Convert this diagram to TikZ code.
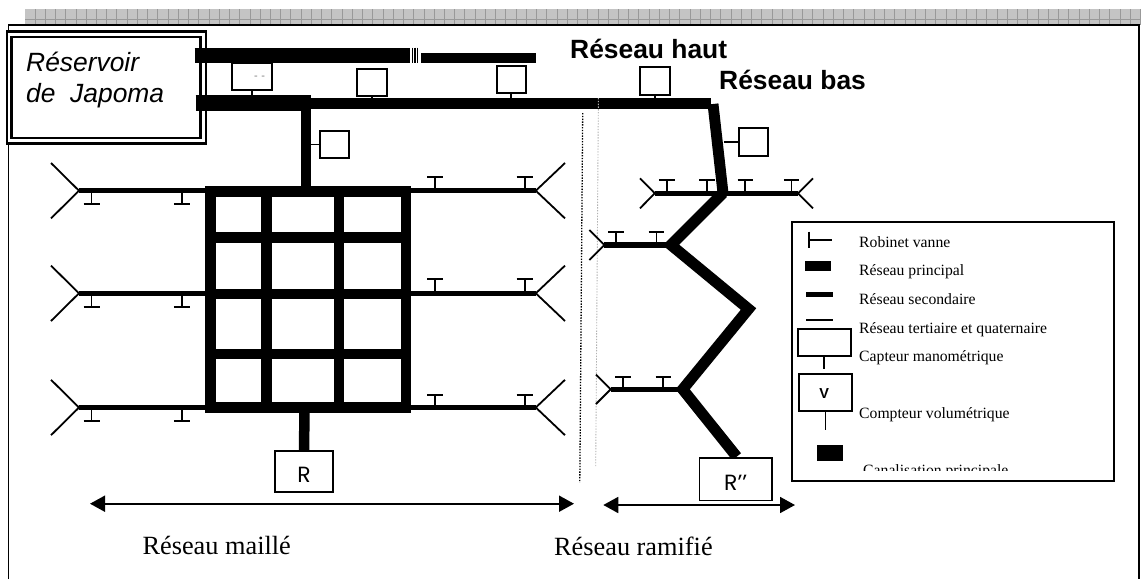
\documentclass[tikz,border=0pt]{standalone}
\usepackage{fontspec}
\setmainfont{Liberation Serif}
\newfontfamily\arialf{Liberation Sans}
\newfontfamily\wideR{Poppins}
\usetikzlibrary{arrows.meta}
\definecolor{band}{gray}{0.77}
\definecolor{bandline}{gray}{0.60}
\tikzset{
  sensor/.style={draw,line width=2pt,fill=white,inner sep=0,minimum width=#1},
  sensor/.default=29.5pt,
  stemline/.style={line width=1.8pt},
  mainpipe/.style={line width=10.5pt,line cap=butt,line join=miter},
  secpipe/.style={line width=5.3pt,line cap=butt},
  forkline/.style={line width=1.8pt},
  valveline/.style={line width=1.8pt},
  spanarrow/.style={line width=1.8pt,{Triangle[length=15pt,width=16pt]}-{Triangle[length=15pt,width=16pt]}},
  lbl/.style={inner sep=0,anchor=base west},
  titlelbl/.style={lbl,font=\arialf\bfseries\fontsize{26.4}{30}\selectfont},
  reslbl/.style={lbl,font=\arialf\itshape\fontsize{26.4}{30}\selectfont},
  zonelbl/.style={lbl,font=\fontsize{26.3}{30}\selectfont},
  leglbl/.style={lbl,font=\fontsize{15.7}{18}\selectfont},
  rlbl/.style={inner sep=0,font=\wideR\fontsize{22}{24}\selectfont},
}
% fork: tip x, tip y, end x, half height
\newcommand{\forkat}[4]{\draw[forkline] (#3,#2-#4) -- (#1,#2) -- (#3,#2+#4);}
% valve: stem x, pipe y, bar y, half bar
\newcommand{\valveat}[4]{\draw[valveline] (#1,#2) -- (#1,#3) (#1-#4,#3) -- (#1+#4,#3);}
\begin{document}
\begin{tikzpicture}[x=1pt,y=-1pt]
\useasboundingbox (0,0) rectangle (1141,579);
% top band
\fill[band] (25,9) rectangle (1141,25);
\foreach \i in {0,...,108}{\draw[bandline,line width=0.8pt] ({35+\i*10.235},9) -- ({35+\i*10.235},25);}
\draw[bandline,line width=0.8pt] (25,19) -- (1141,19);
% frame
\draw[line width=1.8pt] (8.5,579) -- (8.5,25) -- (1139,25) -- (1139,579);
% reservoir
\node[draw,line width=2.4pt,fill=white,minimum width=199pt,minimum height=112pt,inner sep=0] (resA) at (106.3,87.3) {};
\node[draw,line width=2.4pt,minimum width=189pt,minimum height=101pt,inner sep=0] (resB) at (106,87.2) {};
\node[reslbl] (t1) at (26,71.7) {Réservoir};
\node[reslbl] (t2) at (26,102.7) {de\ \ Japoma};
% coordinates of the main network
\coordinate (hautA) at (194.5,55.5);
\coordinate (hautB) at (410,55.5);
\coordinate (hautC) at (421,58);
\coordinate (hautD) at (535.6,58);
\coordinate (basA) at (195.6,102.8);
\coordinate (basB) at (311,102.8);
\coordinate (basC) at (311,103.3);
\coordinate (basD) at (711,103.3);
\coordinate (drop) at (306,110);
\coordinate (gridT) at (306,187);
\coordinate (gridB) at (304.5,412);
\coordinate (bendA) at (713,104);
\coordinate (J1) at (723,193);
\coordinate (J2) at (671,245);
\coordinate (J3) at (748.5,309);
\coordinate (J4) at (682.7,389.3);
\coordinate (J5) at (736.7,456.7);
% high network
\draw[line width=15.7pt] (hautA) -- (hautB);
\draw[line width=10.6pt] (hautC) -- (hautD);
\draw[line width=1.1pt] (412.5,47.7) -- (412.5,63.3) (415,47.7) -- (415,63.3) (417.5,47.7) -- (417.5,63.3);
% low network
\draw[line width=15.7pt] (basA) -- (basB);
\draw[line width=10.7pt] (basC) -- (basD);
\draw[mainpipe] (drop) -- (gridT);
\draw[line width=10.9pt,line join=miter] (bendA) -- (J1);
\draw[line width=11pt,line join=miter,miter limit=4] (J1) -- (J2) -- (J3) -- (J4) -- (J5);
% grid
\draw[mainpipe] (210.3,191.7) rectangle (406.2,407.3);
\draw[mainpipe] (266.3,191.7) -- (266.3,407.3) (338.8,191.7) -- (338.8,407.3);
\draw[mainpipe] (210.3,237.7) -- (406.2,237.7) (210.3,294.2) -- (406.2,294.2) (210.3,353.8) -- (406.2,353.8);
% reservoir outlet R
\node[sensor=58pt,minimum height=41pt,line width=1.6pt] (R) at (304,471.3) {};
\node[rlbl] (Rt) at (304,475) {R};
\draw[mainpipe] (gridB) -- (R.north);
% sensors
\node[sensor=40pt,minimum height=27pt] (s1) at (252,76.7) {};
\node[inner sep=0,text=gray,font=\arialf\fontsize{11}{12}\selectfont] (s1t) at (259.5,78) {-\,\,-};
\node[sensor,minimum height=27.5pt] (s2) at (371.8,82.3) {};
\node[sensor,minimum height=27.5pt] (s3) at (511.3,79.3) {};
\node[sensor,minimum height=27.5pt] (s4) at (334.5,144.5) {};
\node[sensor,minimum height=27.5pt] (s5) at (655,81.2) {};
\node[sensor,minimum height=27.5pt] (s6) at (753.5,142.2) {};
\draw[stemline] (s1.south) -- ++(0,5);
\draw[stemline] (s2.south) -- ++(0,12);
\draw[stemline] (s3.south) -- ++(0,5);
\draw[stemline] (s4.west) -- ++(-9,0);
\draw[stemline] (s5.south) -- ++(0,3);
\draw[stemline] (s6.west) -- ++(-14,0);
% mesh side branches
\foreach \y/\ya/\yb in {190.7/204.3/176.7, 293.3/306.7/279.3, 407.5/421/395}{
  \draw[secpipe] (79,\y) -- (206,\y);
  \draw[secpipe] (411,\y) -- (535.8,\y);
  \forkat{79}{\y}{51}{27.7}
  \forkat{535.8}{\y}{565}{27.7}
  \valveat{91.5}{\y}{\ya}{8}
  \valveat{181.8}{\y}{\ya}{8}
  \valveat{435}{\y}{\yb}{7.7}
  \valveat{524.7}{\y}{\yb}{8}
}
% dotted separators
\draw[line width=1.3pt,dash pattern=on 1.4pt off 1.4pt] (582.7,113) -- (579.8,482.7);
\draw[line width=0.9pt,gray!60,dash pattern=on 1.4pt off 1.4pt] (598.4,98) -- (595.7,466.7);
% branched network
\draw[secpipe] (654.8,193.3) -- (798,193.3);
\forkat{654.8}{193.3}{640}{15}
\forkat{798}{193.3}{813}{15}
\valveat{666.7}{193.3}{180}{7.8}
\valveat{707}{193.3}{180}{7.8}
\valveat{745}{193.3}{180}{7.5}
\valveat{791.5}{193.3}{180}{7.7}
\draw[secpipe] (604.3,245) -- (671,245);
\forkat{604.3}{245}{589.3}{15}
\valveat{616}{245}{232}{7.8}
\valveat{656.5}{245}{232}{7.8}
\draw[secpipe] (610.7,389.3) -- (682.7,389.3);
\forkat{610.7}{389.3}{596}{14.7}
\valveat{623}{389.3}{376.7}{7.8}
\valveat{663.3}{389.3}{376.7}{7.7}
% R'' box
\node[sensor=72.5pt,minimum height=42.5pt,line width=1.8pt] (Rpp) at (735.7,479.3) {};
\node[rlbl] (Rppt) at (735.7,483) {R’’};
% span arrows
\coordinate (mA) at (90,503.7);
\coordinate (mB) at (574,503.7);
\coordinate (rA) at (603.3,505);
\coordinate (rB) at (795,505);
\draw[spanarrow] (mA) -- (mB);
\draw[spanarrow] (rA) -- (rB);
\node[zonelbl] (z1) at (142.4,554) {Réseau maillé};
\node[zonelbl] (z2) at (554,555) {Réseau ramifié};
% titles
\node[titlelbl] (th) at (570,58.3) {Réseau haut};
\node[titlelbl] (tb) at (719,89) {Réseau bas};
% legend
\node[draw,line width=1.8pt,fill=white,minimum width=322pt,minimum height=259pt,inner sep=0] (leg) at (953.3,351.2) {};
\draw[line width=1.8pt] (809,231.7) -- (809,248.3) (809,240) -- (831.7,240);
\fill (805,261) rectangle (831.3,271.3);
\fill (806,292) rectangle (832.7,297);
\draw[line width=1.3pt] (806,320) -- (833.3,320);
\node[sensor=53.3pt,minimum height=26.7pt] (lc) at (824.3,342.3) {};
\draw[stemline] (lc.south) -- ++(0,12);
\node[sensor=53.6pt,minimum height=37.6pt] (lv) at (825.5,392.5) {};
\node[inner sep=0,font=\arialf\bfseries\fontsize{14.5}{16}\selectfont] (lvt) at (824.3,394) {V};
\draw[stemline] (lv.south) -- ++(0,18);
\fill (816.7,445) rectangle (843.3,460.7);
\node[leglbl] (l1) at (859,247.7) {Robinet vanne};
\node[leglbl] (l2) at (859,275.7) {Réseau principal};
\node[leglbl] (l3) at (859,304.7) {Réseau secondaire};
\node[leglbl] (l4) at (859,333.3) {Réseau tertiaire et quaternaire};
\node[leglbl] (l5) at (859,361.7) {Capteur manométrique};
\node[leglbl] (l6) at (859,418.7) {Compteur volumétrique};
\begin{scope}
\clip (795,440) rectangle (1112,470);
\node[leglbl] (l7) at (863,475.5) {Canalisation principale};
\end{scope}
\end{tikzpicture}
\end{document}
